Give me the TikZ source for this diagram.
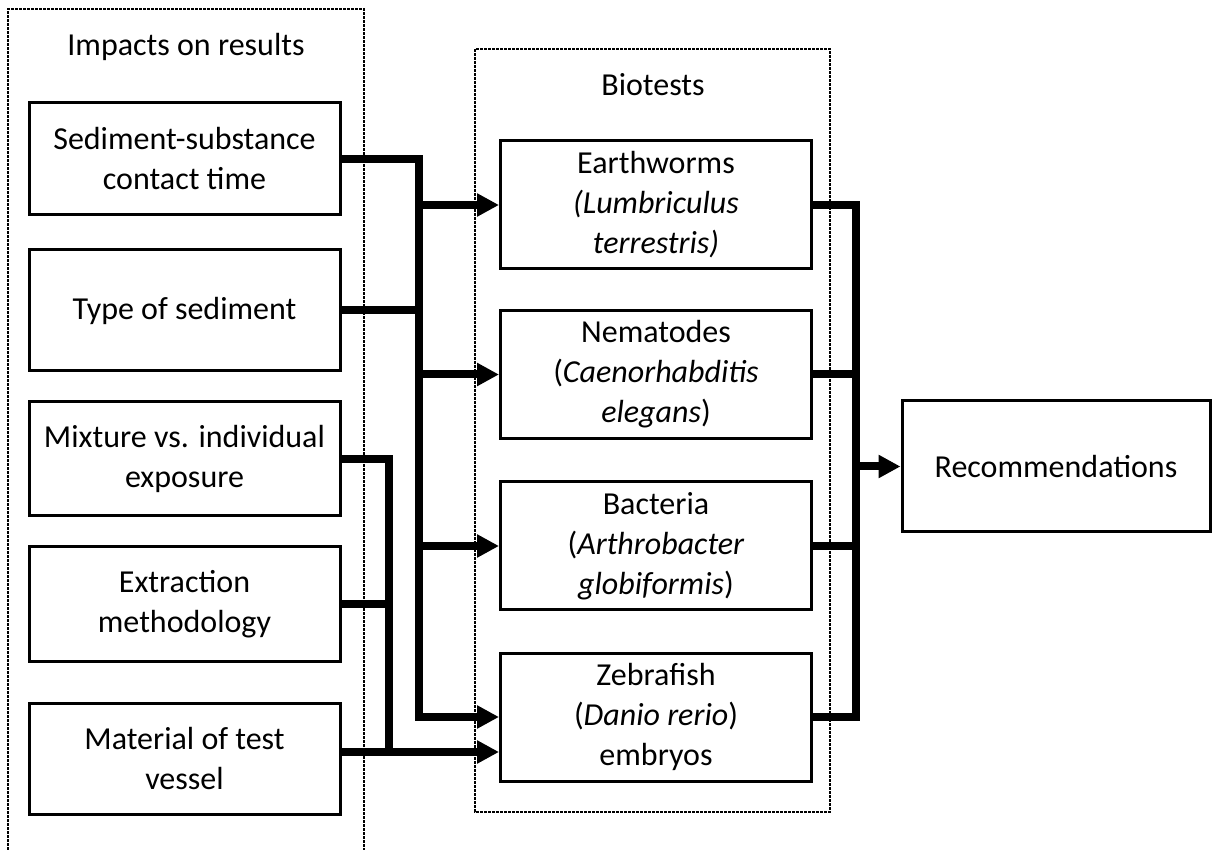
\documentclass[tikz,border=0pt]{standalone}
\usepackage{fontspec}
\setmainfont{Carlito}
\usetikzlibrary{arrows.meta}

\begin{document}
\begin{tikzpicture}[x=0.5pt, y=-0.5pt, >={Triangle[length=11pt,width=11pt]},
    font=\fontsize{16}{20}\selectfont,
    stepbox/.style={draw, line width=1.5pt, align=center, inner sep=0pt, minimum width=155.5pt},
    group/.style={line width=0.7pt, dash pattern=on 1.5pt off 0.5pt},
    flow/.style={line width=4pt}]
    \useasboundingbox (0,0) rectangle (1212,850);
    % Groups
    \draw[group] (8,850) -- (8,9) -- (364,9) -- (364,850);
    \node (imptitle) at (186,47) {Impacts on results};
    \draw[group] (475,49) rectangle (830,812);
    \node (biotitle) at (653,85) {Biotests};
    % Impacts
    \node[stepbox, minimum height=56pt] (imp1) at (184.5,159) {Sediment-substance\\contact time};
    \node[stepbox, minimum height=60.5pt] (imp2) at (184.5,310.5) {Type of sediment};
    \node[stepbox, minimum height=57pt] (imp3) at (184.5,459) {Mixture vs. individual\\exposure};
    \node[stepbox, minimum height=57pt] (imp4) at (184.5,604) {Extraction\\methodology};
    \node[stepbox, minimum height=55.5pt] (imp5) at (184.5,758.5) {Material of test\\vessel};
    % Biotests
    \node[stepbox, minimum height=64pt] (bio1) at (656,205) {Earthworms\\\textit{(Lumbriculus}\\\textit{terrestris)}};
    \node[stepbox, minimum height=64pt] (bio2) at (656,374.5) {Nematodes\\(\textit{Caenorhabditis}\\\textit{elegans})};
    \node[stepbox, minimum height=64pt] (bio3) at (656,546) {Bacteria\\(\textit{Arthrobacter}\\\textit{globiformis})};
    \node[stepbox, minimum height=64pt] (bio4) at (656,717) {Zebrafish\\(\textit{Danio rerio})\\embryos};
    % Result
    \node[stepbox, minimum width=154pt, minimum height=65.5pt] (rec) at (1056,466.5) {Recommendations};
    % Buses
    \coordinate (busA) at (419,0);
    \coordinate (busB) at (389,0);
    \coordinate (busC) at (856,0);
    \coordinate (v5) at ([yshift=3.25pt]imp5.east);
    % Left side
    \draw[flow, ->] (imp1.east) -| (busA |- bio4.west) -- (bio4.west);
    \draw[flow] (imp2.east) -- (imp2.east -| busA);
    \foreach \b in {bio1,bio2,bio3} \draw[flow, ->] (busA |- \b.west) -- (\b.west);
    \draw[flow] (imp3.east) -| (busB |- v5);
    \draw[flow] (imp4.east) -- (imp4.east -| busB);
    \draw[flow, ->] (v5) -- (bio4.west |- v5);
    % Right side
    \draw[flow] (bio1.east) -| (busC |- bio4.east) -- (bio4.east);
    \foreach \b in {bio2,bio3} \draw[flow] (\b.east) -- (\b.east -| busC);
    \draw[flow, ->] (busC |- rec.west) -- (rec.west);
\end{tikzpicture}
\end{document}
